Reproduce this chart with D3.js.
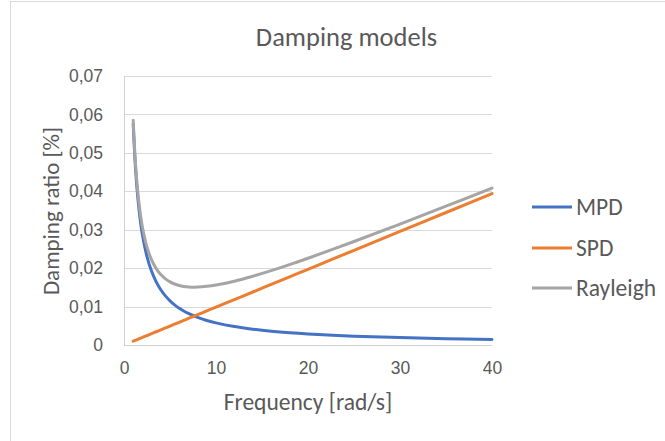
<!DOCTYPE html>
<html>
<head>
<meta charset="utf-8">
<script src="https://cdn.jsdelivr.net/npm/d3@7"></script>
<style>
  html, body { margin: 0; padding: 0; background: #fff; }
  svg { display: block; font-family: Carlito, Lato, "Open Sans", sans-serif; }
</style>
</head>
<body>
<svg id="chart" width="665" height="441"></svg>
<script>
// Angular frequency samples [rad/s]
const frequency = [1, 1.25, 1.5, 1.75, 2, 2.5, 3, 3.5, 4, 4.5, 5, 5.5, 6, 6.5, 7, 8, 9, 10, 12, 14, 16, 18, 20, 25, 30, 35, 40];
// Mass-proportional damping ratio
const mpd = [0.0575, 0.046, 0.03833, 0.03286, 0.02875, 0.023, 0.01917, 0.01643, 0.01438, 0.01278, 0.0115, 0.01045, 0.00958, 0.00885, 0.00821, 0.00719, 0.00639, 0.00575, 0.00479, 0.00411, 0.00359, 0.00319, 0.00288, 0.0023, 0.00192, 0.00164, 0.00144];
// Stiffness-proportional damping ratio
const spd = [0.00099, 0.00123, 0.00148, 0.00172, 0.00197, 0.00246, 0.00296, 0.00345, 0.00394, 0.00443, 0.00493, 0.00542, 0.00591, 0.0064, 0.0069, 0.00788, 0.00887, 0.00985, 0.01182, 0.01379, 0.01576, 0.01773, 0.0197, 0.02463, 0.02955, 0.03448, 0.0394];
// Rayleigh damping ratio (mass + stiffness terms)
const rayleigh = [0.05849, 0.04723, 0.03981, 0.03458, 0.03072, 0.02546, 0.02213, 0.01988, 0.01832, 0.01721, 0.01643, 0.01587, 0.01549, 0.01525, 0.01511, 0.01507, 0.01526, 0.0156, 0.01661, 0.0179, 0.01935, 0.02092, 0.02258, 0.02693, 0.03147, 0.03612, 0.04084];

const xTicks = [0, 10, 20, 30, 40];
const yTicks = [0, 0.01, 0.02, 0.03, 0.04, 0.05, 0.06, 0.07];
const yTickLabels = ["0", "0,01", "0,02", "0,03", "0,04", "0,05", "0,06", "0,07"];

const seriesNames = ["MPD", "SPD", "Rayleigh"];
const seriesColors = ["#4472C4", "#ED7D31", "#A5A5A5"];

const svg = d3.select("#chart");
const textColor = "#595959";

// outer chart frame
svg.append("rect")
  .attr("x", 10.5).attr("y", 1.5)
  .attr("width", 700).attr("height", 460)
  .attr("fill", "none").attr("stroke", "#d9d9d9").attr("stroke-width", 1);

const x = d3.scaleLinear().domain([0, 40]).range([124, 492]);
const y = d3.scaleLinear().domain([0, 0.07]).range([345, 76]);

// horizontal gridlines
svg.append("g")
  .selectAll("line")
  .data(yTicks.slice(1))
  .join("line")
  .attr("x1", x(0)).attr("x2", x(40))
  .attr("y1", d => Math.round(y(d)) + 0.5).attr("y2", d => Math.round(y(d)) + 0.5)
  .attr("stroke", "#d9d9d9").attr("stroke-width", 1);

// axis lines
svg.append("line")
  .attr("x1", x(0)).attr("x2", x(40))
  .attr("y1", Math.round(y(0)) + 0.5).attr("y2", Math.round(y(0)) + 0.5)
  .attr("stroke", "#d0d0d0");
svg.append("line")
  .attr("x1", Math.round(x(0)) + 0.5).attr("x2", Math.round(x(0)) + 0.5)
  .attr("y1", y(0.07)).attr("y2", y(0))
  .attr("stroke", "#d0d0d0");

// y axis labels
const yAxis = d3.axisLeft(y)
  .tickValues(yTicks)
  .tickFormat((d, i) => yTickLabels[i])
  .tickSize(0)
  .tickPadding(21);
const gy = svg.append("g").attr("transform", `translate(${x(0)},0)`).call(yAxis);
gy.select(".domain").remove();
gy.selectAll("text")
  .attr("fill", textColor)
  .style("font-size", "17.5px")
  .style("font-family", null);

// x axis labels
const xAxis = d3.axisBottom(x)
  .tickValues(xTicks)
  .tickSize(0)
  .tickPadding(17);
const gx = svg.append("g").attr("transform", `translate(0,${y(0)})`).call(xAxis);
gx.select(".domain").remove();
gx.selectAll("text")
  .attr("fill", textColor)
  .style("font-size", "17.5px")
  .style("font-family", null);

// series lines
const seriesData = [mpd, spd, rayleigh];
const line = d3.line()
  .x((d, i) => x(frequency[i]))
  .y(d => y(d))
  .curve(d3.curveCatmullRom.alpha(0.5));

svg.append("g")
  .selectAll("path")
  .data(seriesData)
  .join("path")
  .attr("d", d => line(d))
  .attr("fill", "none")
  .attr("stroke", (d, i) => seriesColors[i])
  .attr("stroke-width", 3)
  .attr("stroke-linejoin", "round")
  .attr("stroke-linecap", "round");

// title
svg.append("text")
  .attr("x", 346.5).attr("y", 46)
  .attr("text-anchor", "middle")
  .attr("fill", textColor)
  .style("font-size", "26.5px")
  .text("Damping models");

// axis titles
svg.append("text")
  .attr("x", 308).attr("y", 410)
  .attr("text-anchor", "middle")
  .attr("fill", textColor)
  .style("font-size", "23.5px")
  .text("Frequency [rad/s]");

svg.append("text")
  .attr("transform", "translate(59,211) rotate(-90)")
  .attr("text-anchor", "middle")
  .attr("fill", textColor)
  .style("font-size", "23px")
  .text("Damping ratio [%]");

// legend
const legendY = [207, 248, 288];
const legend = svg.append("g")
  .selectAll("g")
  .data(seriesNames)
  .join("g")
  .attr("transform", (d, i) => `translate(0,${legendY[i]})`);
legend.append("line")
  .attr("x1", 532).attr("x2", 572)
  .attr("y1", 0).attr("y2", 0)
  .attr("stroke", (d, i) => seriesColors[i])
  .attr("stroke-width", 3);
legend.append("text")
  .attr("x", 576).attr("y", 0)
  .attr("dy", "0.35em")
  .attr("fill", textColor)
  .style("font-size", "23.5px")
  .text(d => d);
</script>
</body>
</html>
